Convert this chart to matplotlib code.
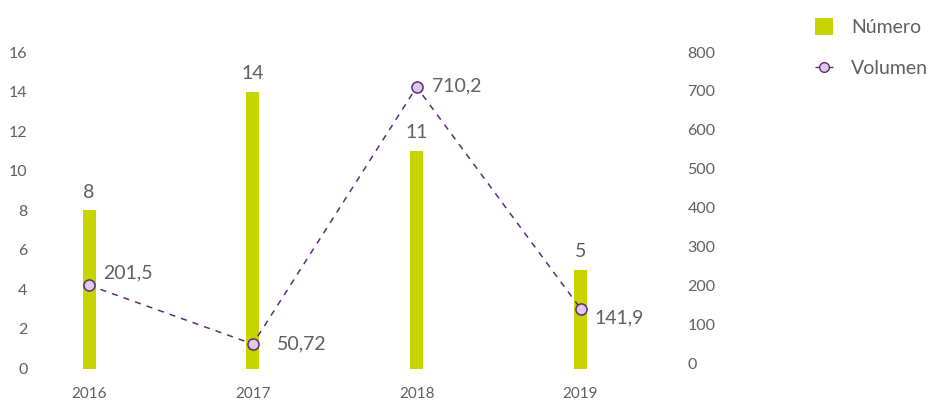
import matplotlib
matplotlib.use("Agg")
import matplotlib.pyplot as plt
from matplotlib.lines import Line2D
from matplotlib.patches import Patch

years = ["2016", "2017", "2018", "2019"]
numero = [8, 14, 11, 5]
volumen = [201.5, 50.72, 710.2, 141.9]
volumen_labels = ["201,5", "50,72", "710,2", "141,9"]

plt.rcParams["font.family"] = ["Lato", "DejaVu Sans"]

GREEN = "#c8d400"
PURPLE = "#5c2d72"
LILAC = "#dccbe6"
GREY = "#5f5f5f"

W, H = 929, 403
fig = plt.figure(figsize=(W / 100, H / 100), dpi=100)

# axes: categories 0..3 at px 89..580, y 0 at 368.5 px, 16 at 52 px
left_px, right_px = 40, 650
top_px, bot_px = 52, 368.5
ax = fig.add_axes([left_px / W, (H - bot_px) / H,
                   (right_px - left_px) / W, (bot_px - top_px) / H])
step = (580.5 - 89) / 3
ax.set_xlim(-(89 - left_px) / step, 3 + (right_px - 580.5) / step)
ax.set_ylim(0, 16)

x = list(range(len(years)))
bar_w = 13 / step
ax.bar(x, numero, width=bar_w, color=GREEN, zorder=2)
for xi, v in zip(x, numero):
    ax.annotate(str(v), (xi, v), textcoords="offset points", xytext=(0, 7),
                ha="center", va="bottom", fontsize=14, color=GREY)

ax2 = ax.twinx()
ax2.set_ylim(-12, 800)
ax2.plot(x, volumen, linestyle=(0, (4, 4)), color=PURPLE, linewidth=1.1,
         marker="o", markersize=8, markerfacecolor=LILAC,
         markeredgecolor=PURPLE, markeredgewidth=1.1, zorder=3)
offsets = [(10, 9), (17, 0), (11, 1), (10, -7)]
for xi, v, lbl, off in zip(x, volumen, volumen_labels, offsets):
    ax2.annotate(lbl, (xi, v), textcoords="offset points", xytext=off,
                 ha="left", va="center", fontsize=14, color=GREY)

ax.set_xticks(x)
ax.set_xticklabels(years)
ax.set_yticks(range(0, 17, 2))
ax2.set_yticks(range(0, 801, 100))
for a in (ax, ax2):
    for s in a.spines.values():
        s.set_visible(False)
    a.tick_params(length=0, labelsize=11.5, colors=GREY)
ax.tick_params(axis="y", pad=9)
ax.tick_params(axis="x", pad=13, labelsize=11)
ax2.tick_params(axis="y", pad=27)

handles = [Patch(facecolor=GREEN, edgecolor="none", label="Número"),
           Line2D([], [], linestyle=(0, (3, 2)), color=PURPLE, linewidth=1.0,
                  marker="o", markersize=7, markerfacecolor=LILAC,
                  markeredgecolor=PURPLE, label="Volumen")]
fig.legend(handles=handles, loc="upper left",
           bbox_to_anchor=(815 / W, 1 - 18 / H), borderaxespad=0, borderpad=0,
           frameon=False, fontsize=14, labelcolor=GREY, handlelength=0.95,
           handleheight=0.95, labelspacing=1.2, handletextpad=0.9)

fig.savefig("out.png", dpi=100)
